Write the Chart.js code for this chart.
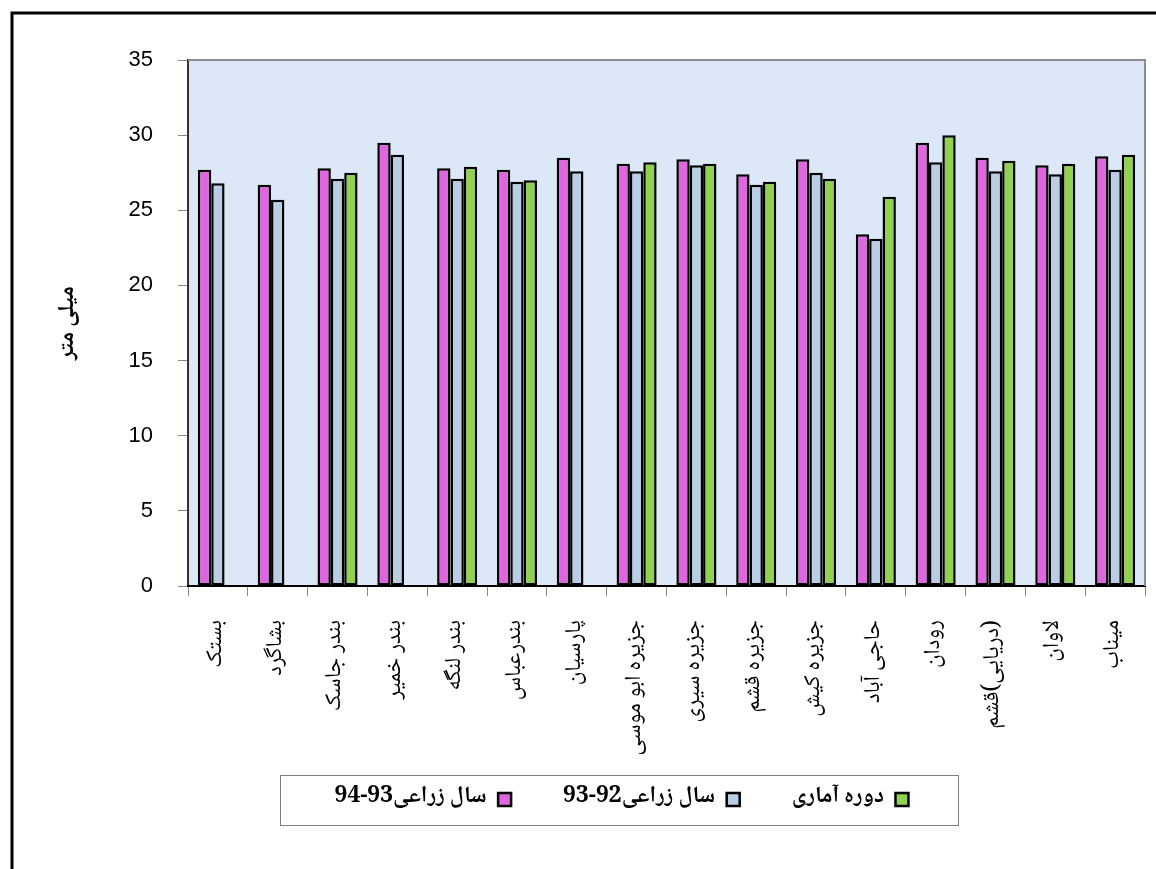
<!DOCTYPE html>
<html>
<head>
<meta charset="utf-8">
<script src="https://cdn.jsdelivr.net/npm/chart.js@4.4.0/dist/chart.umd.min.js"></script>
<style>
  html, body { margin: 0; padding: 0; background: #fff; }
  #wrap { width: 1156px; height: 869px; }
</style>
</head>
<body>
<div id="wrap"><canvas id="evapChart"></canvas></div>
<script>
const stations = ["بستک", "بشاگرد", "بندر جاسک", "بندر خمیر", "بندر لنگه", "بندرعباس", "پارسیان",
  "جزیره ابو موسی", "جزیره سیری", "جزیره قشم", "جزیره کیش", "حاجی آباد", "رودان",
  "\u200F(دریایی)قشم", "لاوان", "میناب"];
const year9394 = [27.7, 26.7, 27.8, 29.5, 27.8, 27.7, 28.5, 28.1, 28.4, 27.4, 28.4, 23.4, 29.5, 28.5, 28.0, 28.6];
const year9293 = [26.8, 25.7, 27.1, 28.7, 27.1, 26.9, 27.6, 27.6, 28.0, 26.7, 27.5, 23.1, 28.2, 27.6, 27.4, 27.7];
const longTerm = [null, null, 27.5, null, 27.9, 27.0, null, 28.2, 28.1, 26.9, 27.1, 25.9, 30.0, 28.3, 28.1, 28.7];
const yTicks = [0, 5, 10, 15, 20, 25, 30, 35];

const faFont = "'Noto Naskh Arabic', 'Noto Sans Arabic', 'DejaVu Sans', sans-serif";

// nudge for the legend so it sits like the original box
const legendShift = { x: 42, y: -25 };

const framePlugin = {
  id: "frame",
  afterLayout(chart) {
    const lg = chart.legend;
    lg.left += legendShift.x;
    lg.right += legendShift.x;
    lg.top += legendShift.y;
    lg.bottom += legendShift.y;
  },
  beforeDraw(chart) {
    const { ctx, chartArea: a } = chart;
    ctx.save();
    ctx.fillStyle = "#fff";
    ctx.fillRect(0, 0, chart.width, chart.height);
    ctx.fillStyle = "#dce8f7";
    ctx.fillRect(a.left, a.top, a.right - a.left, a.bottom - a.top);
    ctx.restore();
  },
  afterDraw(chart) {
    const { ctx, chartArea: a } = chart;
    ctx.save();
    // plot frame top and right
    ctx.strokeStyle = "#8c8c8c";
    ctx.lineWidth = 2;
    ctx.beginPath();
    ctx.moveTo(a.left, a.top);
    ctx.lineTo(a.right, a.top);
    ctx.lineTo(a.right, a.bottom);
    ctx.stroke();
    // outer frame
    ctx.strokeStyle = "#000";
    ctx.lineWidth = 3;
    ctx.beginPath();
    ctx.moveTo(12, chart.height + 5);
    ctx.lineTo(12, 13);
    ctx.lineTo(chart.width + 5, 13);
    ctx.stroke();
    // legend box
    const lg = chart.legend;
    const boxes = lg.legendHitBoxes;
    if (boxes && boxes.length) {
      let l = Infinity, r = -Infinity;
      boxes.forEach(h => {
        l = Math.min(l, h.left);
        r = Math.max(r, h.left + h.width);
      });
      const lab = lg.options.labels;
      const cy = lg.top + lab.padding + lab.font.size / 2;
      ctx.strokeStyle = "#7f7f7f";
      ctx.lineWidth = 1;
      ctx.strokeRect(Math.round(l - 55) + 0.5, Math.round(cy - 25) + 0.5, Math.round(r - l + 104), 50);
    }
    ctx.restore();
  }
};

new Chart(document.getElementById("evapChart"), {
  type: "bar",
  data: {
    labels: stations,
    datasets: [
      {
        label: "سال زراعی93-94",
        data: year9394,
        backgroundColor: "#e066e0",
        borderColor: "#000",
        borderWidth: 2.5,
        borderSkipped: false,
      },
      {
        label: "سال زراعی92-93",
        data: year9293,
        backgroundColor: "#b9cde5",
        borderColor: "#000",
        borderWidth: 2.5,
        borderSkipped: false,
      },
      {
        label: "دوره آماری",
        data: longTerm,
        backgroundColor: "#92d050",
        borderColor: "#000",
        borderWidth: 2.5,
        borderSkipped: false,
      },
    ],
  },
  options: {
    responsive: true,
    maintainAspectRatio: false,
    animation: false,
    datasets: {
      bar: { categoryPercentage: 0.67, barPercentage: 1.0 },
    },
    layout: {
      padding: { top: 60, right: 11, left: 14, bottom: 23 },
    },
    plugins: {
      tooltip: { enabled: false },
      legend: {
        position: "bottom",
        rtl: true,
        reverse: true,
        labels: {
          boxWidth: 13,
          boxHeight: 13,
          padding: 52,
          color: "#000",
          font: { size: 23, weight: "bold", family: faFont },
        },
      },
    },
    scales: {
      y: {
        min: 0,
        max: 35,
        afterBuildTicks: function (scale) {
          scale.ticks = yTicks.map(v => ({ value: v }));
        },
        afterFit: function (scale) {
          scale.width = 174;
        },
        border: { display: true, color: "#333", width: 2 },
        grid: {
          drawOnChartArea: false,
          drawTicks: true,
          tickLength: 10,
          color: "#888",
        },
        ticks: {
          padding: 25,
          color: "#000",
          font: { size: 22, family: "'Liberation Sans', Arial, sans-serif" },
        },
        title: {
          display: true,
          text: "میلی متر",
          color: "#000",
          padding: { top: 42, bottom: 0 },
          font: { size: 23, weight: "bold", family: faFont },
        },
      },
      x: {
        afterFit: function (scale) {
          scale.height = 175;
          scale.paddingLeft = 0;
          scale.paddingRight = 0;
        },
        border: { display: true, color: "#000", width: 2 },
        grid: {
          drawOnChartArea: false,
          drawTicks: true,
          tickLength: 10,
          color: "#888",
        },
        ticks: {
          autoSkip: false,
          maxRotation: 90,
          minRotation: 90,
          padding: 24,
          color: "#000",
          font: { size: 23, family: faFont },
        },
      },
    },
  },
  plugins: [framePlugin],
});
</script>
</body>
</html>
